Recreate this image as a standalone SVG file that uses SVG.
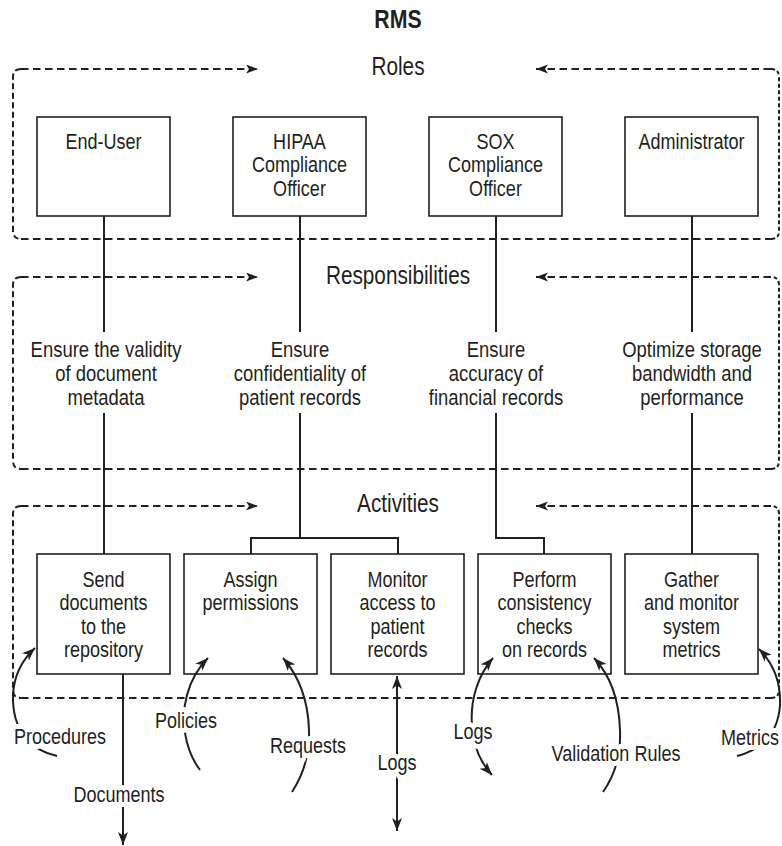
<svg xmlns="http://www.w3.org/2000/svg" width="782" height="846" viewBox="0 0 782 846">
  <defs>
    <style>
      .t { font-family: "Liberation Sans", Arial, sans-serif; font-size: 22px; fill: #231f20; text-anchor: middle; }
      .sec { font-size: 25px; }
      .title { font-size: 26px; font-weight: bold; }
      .lbl { paint-order: stroke; stroke: #fff; stroke-width: 10px; stroke-linejoin: round; }
      .box { fill: #fff; stroke: #231f20; stroke-width: 1.6; }
      .wire { fill: none; stroke: #231f20; stroke-width: 2; }
      .dh { fill: none; stroke: #231f20; stroke-width: 2; stroke-dasharray: 7.5 4.5; }
      .dl { fill: none; stroke: #231f20; stroke-width: 2; stroke-dasharray: 6 3.5; }
      .dr { fill: none; stroke: #231f20; stroke-width: 2; stroke-dasharray: 4 2.5; }
    </style>
    <marker id="dashHead" markerUnits="userSpaceOnUse" markerWidth="14" markerHeight="10" refX="12" refY="4.5" orient="auto">
      <path d="M0,0 L12,4.5 L0,9 L3,4.5 Z" fill="#231f20"/>
    </marker>
    <marker id="head" markerUnits="userSpaceOnUse" markerWidth="14" markerHeight="11" refX="13" refY="5" orient="auto-start-reverse">
      <path d="M0,0 L13,5 L0,10 L3.5,5 Z" fill="#231f20"/>
    </marker>
  </defs>

  <rect width="782" height="846" fill="#fff"/>

  <!-- title (condensed by horizontal scaling) -->
  <text class="t title" transform="translate(398 28) scale(.82 1)">RMS</text>

  <!-- layer frames -->
  <g id="frame-roles">
    <path class="dh" d="M21 69 H258" marker-end="url(#dashHead)"/>
    <path class="dl" d="M21 69 Q13 69 13 77 V231 Q13 239 21 239"/>
    <path class="dh" d="M21 239 H771"/>
    <path class="dr" d="M771 239 Q779 239 779 231 V77 Q779 69 771 69"/>
    <path class="dh" d="M771 69 H536" marker-end="url(#dashHead)"/>
    <text class="t sec" transform="translate(398 75) scale(.83 1)">Roles</text>
  </g>
  <g id="frame-responsibilities">
    <path class="dh" d="M21 277 H258" marker-end="url(#dashHead)"/>
    <path class="dl" d="M21 277 Q13 277 13 285 V461 Q13 469 21 469"/>
    <path class="dh" d="M21 469 H771"/>
    <path class="dr" d="M771 469 Q779 469 779 461 V285 Q779 277 771 277"/>
    <path class="dh" d="M771 277 H536" marker-end="url(#dashHead)"/>
    <text class="t sec" transform="translate(398 284) scale(.83 1)">Responsibilities</text>
  </g>
  <g id="frame-activities">
    <path class="dh" d="M21 506 H258" marker-end="url(#dashHead)"/>
    <path class="dl" d="M21 506 Q13 506 13 514 V690 Q13 698 21 698"/>
    <path class="dh" d="M21 698 H771"/>
    <path class="dr" d="M771 698 Q779 698 779 690 V514 Q779 506 771 506"/>
    <path class="dh" d="M771 506 H536" marker-end="url(#dashHead)"/>
    <text class="t sec" transform="translate(398 512) scale(.83 1)">Activities</text>
  </g>

  <!-- roles -->
  <g id="role-end-user">
    <rect class="box" x="37" y="117" width="133" height="99"/>
    <text class="t" transform="translate(103.5 149) scale(.82 1)">End-User</text>
  </g>
  <g id="role-hipaa">
    <rect class="box" x="233" y="117" width="133" height="99"/>
    <text class="t" transform="translate(299.5 149) scale(.82 1)"><tspan x="0">HIPAA</tspan><tspan x="0" dy="23.5">Compliance</tspan><tspan x="0" dy="23.5">Officer</tspan></text>
  </g>
  <g id="role-sox">
    <rect class="box" x="429" y="117" width="133" height="99"/>
    <text class="t" transform="translate(495.5 149) scale(.82 1)"><tspan x="0">SOX</tspan><tspan x="0" dy="23.5">Compliance</tspan><tspan x="0" dy="23.5">Officer</tspan></text>
  </g>
  <g id="role-admin">
    <rect class="box" x="625" y="117" width="133" height="99"/>
    <text class="t" transform="translate(691.5 149) scale(.82 1)">Administrator</text>
  </g>

  <!-- responsibilities -->
  <g id="resp-validity">
    <text class="t" transform="translate(106 357) scale(.84 1)"><tspan x="0">Ensure the validity</tspan><tspan x="0" dy="24">of document</tspan><tspan x="0" dy="24">metadata</tspan></text>
  </g>
  <g id="resp-confidentiality">
    <text class="t" transform="translate(300 357) scale(.84 1)"><tspan x="0">Ensure</tspan><tspan x="0" dy="24">confidentiality of</tspan><tspan x="0" dy="24">patient records</tspan></text>
  </g>
  <g id="resp-accuracy">
    <text class="t" transform="translate(496 357) scale(.84 1)"><tspan x="0">Ensure</tspan><tspan x="0" dy="24">accuracy of</tspan><tspan x="0" dy="24">financial records</tspan></text>
  </g>
  <g id="resp-performance">
    <text class="t" transform="translate(692 357) scale(.84 1)"><tspan x="0">Optimize storage</tspan><tspan x="0" dy="24">bandwidth and</tspan><tspan x="0" dy="24">performance</tspan></text>
  </g>

  <!-- activities -->
  <g id="act-send">
    <rect class="box" x="37" y="554" width="133" height="120"/>
    <text class="t" transform="translate(103.5 587) scale(.82 1)"><tspan x="0">Send</tspan><tspan x="0" dy="23.5">documents</tspan><tspan x="0" dy="23.5">to the</tspan><tspan x="0" dy="23.5">repository</tspan></text>
  </g>
  <g id="act-assign">
    <rect class="box" x="184" y="554" width="133" height="120"/>
    <text class="t" transform="translate(250.5 587) scale(.82 1)"><tspan x="0">Assign</tspan><tspan x="0" dy="23.5">permissions</tspan></text>
  </g>
  <g id="act-monitor">
    <rect class="box" x="331" y="554" width="133" height="120"/>
    <text class="t" transform="translate(397.5 587) scale(.82 1)"><tspan x="0">Monitor</tspan><tspan x="0" dy="23.5">access to</tspan><tspan x="0" dy="23.5">patient</tspan><tspan x="0" dy="23.5">records</tspan></text>
  </g>
  <g id="act-consistency">
    <rect class="box" x="478" y="554" width="133" height="120"/>
    <text class="t" transform="translate(544.5 587) scale(.82 1)"><tspan x="0">Perform</tspan><tspan x="0" dy="23.5">consistency</tspan><tspan x="0" dy="23.5">checks</tspan><tspan x="0" dy="23.5">on records</tspan></text>
  </g>
  <g id="act-metrics">
    <rect class="box" x="625" y="554" width="133" height="120"/>
    <text class="t" transform="translate(691.5 587) scale(.82 1)"><tspan x="0">Gather</tspan><tspan x="0" dy="23.5">and monitor</tspan><tspan x="0" dy="23.5">system</tspan><tspan x="0" dy="23.5">metrics</tspan></text>
  </g>

  <!-- connectors -->
  <g id="connectors">
    <!-- role to responsibility to activity -->
    <path class="wire" d="M104 216 V332 M104 413 V554"/>
    <path class="wire" d="M300 216 V332 M300 413 V538 M251 554 V538 H398 V554"/>
    <path class="wire" d="M496 216 V332 M496 413 V538 H544 V554"/>
    <path class="wire" d="M692 216 V332 M692 413 V554"/>

    <!-- inputs and outputs -->
    <path class="wire" d="M57 756 C30 750 12 730 13 695 C14 675 22 660 35 648" marker-end="url(#head)"/>
    <path class="wire" d="M123 674 V845" marker-end="url(#head)"/>
    <path class="wire" d="M200 770 C185 750 180 720 187 695 C191 680 198 668 208 658" marker-end="url(#head)"/>
    <path class="wire" d="M292 792 C303 775 310 755 309 730 C308 700 298 675 283 658" marker-end="url(#head)"/>
    <path class="wire" d="M397 676 V831" marker-start="url(#head)" marker-end="url(#head)"/>
    <path class="wire" d="M493 658 C478 675 470 700 472 725 C473 745 480 762 492 775" marker-start="url(#head)" marker-end="url(#head)"/>
    <path class="wire" d="M603 792 C615 775 621 755 620 730 C619 700 610 675 594 658" marker-end="url(#head)"/>
    <path class="wire" d="M737 756 C760 750 778 735 780 705 C781 680 772 662 759 649" marker-end="url(#head)"/>

    <text class="t lbl" transform="translate(60 744) scale(.82 1)">Procedures</text>
    <text class="t lbl" transform="translate(119 802) scale(.82 1)">Documents</text>
    <text class="t lbl" transform="translate(186 728) scale(.82 1)">Policies</text>
    <text class="t lbl" transform="translate(308 753) scale(.82 1)">Requests</text>
    <text class="t lbl" transform="translate(397 770) scale(.82 1)">Logs</text>
    <text class="t lbl" transform="translate(473 739) scale(.82 1)">Logs</text>
    <text class="t lbl" transform="translate(616 761) scale(.82 1)">Validation Rules</text>
    <text class="t lbl" transform="translate(750 745) scale(.82 1)">Metrics</text>
  </g>
</svg>
